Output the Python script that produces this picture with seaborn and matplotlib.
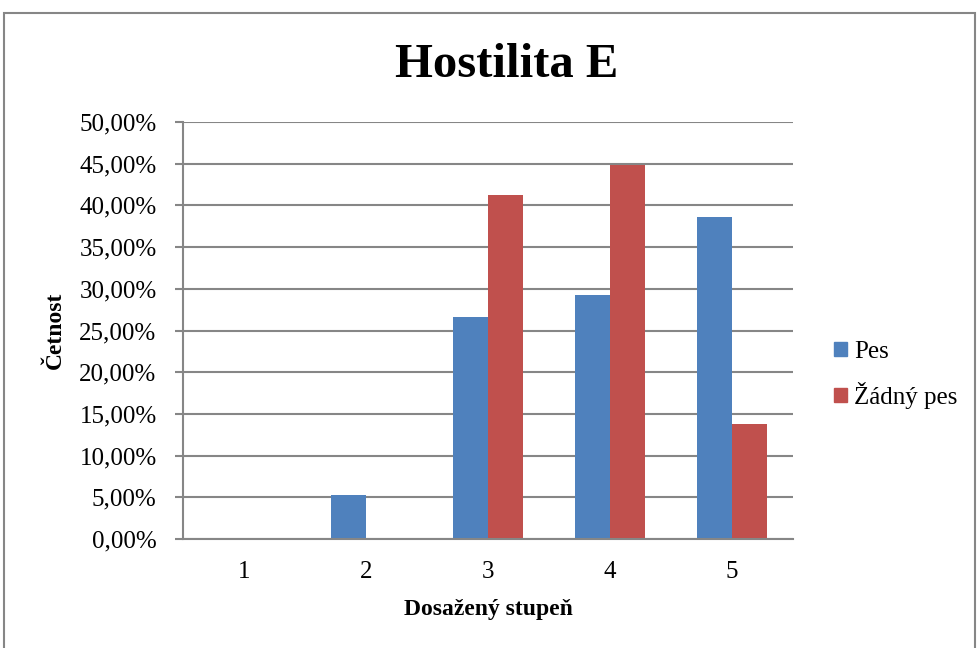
import matplotlib
matplotlib.use("Agg")
import matplotlib.pyplot as plt
import matplotlib.patches as mpatches
import seaborn as sns
import pandas as pd

categories = ["1", "2", "3", "4", "5"]
series_names = ["Pes", "Žádný pes"]
pes = [0.0, 5.3, 26.6, 29.3, 38.6]
zadny_pes = [0.0, 0.0, 41.3, 44.8, 13.8]
y_ticks = [0, 5, 10, 15, 20, 25, 30, 35, 40, 45, 50]
title = "Hostilita E"
x_label = "Dosažený stupeň"
y_label = "Četnost"
colors = ["#4F81BD", "#C0504D"]

df = pd.DataFrame({
    "cat": categories * 2,
    "val": pes + zadny_pes,
    "series": [series_names[0]] * len(categories) + [series_names[1]] * len(categories),
})

sns.set_theme(style="white")
plt.rcParams["font.family"] = ["Liberation Serif", "DejaVu Serif"]
plt.rcParams["text.color"] = "black"
plt.rcParams["axes.labelcolor"] = "black"
plt.rcParams["xtick.color"] = "black"
plt.rcParams["ytick.color"] = "black"

fig = plt.figure(figsize=(9.78, 6.48), dpi=100)
ax = fig.add_axes([183 / 978, 1 - 539 / 648, 610 / 978, 417 / 648])

sns.barplot(data=df, x="cat", y="val", hue="series", palette=colors,
            width=0.57, ax=ax, linewidth=0, saturation=1, legend=False)

grid_c = "#868686"
ax.set_ylim(0, 50)
ax.set_yticks(y_ticks)
ax.set_yticklabels([f"{v:.2f}".replace(".", ",") + "%" for v in y_ticks], fontsize=18)
ax.yaxis.grid(True, color=grid_c, linewidth=1.5)
ax.set_axisbelow(True)
for s in ["top", "right"]:
    ax.spines[s].set_visible(False)
for s in ["left", "bottom"]:
    ax.spines[s].set_color(grid_c)
    ax.spines[s].set_linewidth(1.5)
ax.tick_params(axis="y", left=True, length=6, width=1.5, color=grid_c, pad=13, labelcolor="black")
ax.tick_params(axis="x", bottom=False, length=0, pad=16, labelsize=18, labelcolor="black")

ax.set_xlabel(x_label, fontsize=17, fontweight="bold", color="black")
ax.xaxis.set_label_coords(0.5, (539 - 610) / 417)
ax.xaxis.label.set_verticalalignment("center")
ax.set_ylabel(y_label, fontsize=17, fontweight="bold", color="black")
ax.yaxis.set_label_coords((55 - 183) / 610, 0.5)
ax.yaxis.label.set_verticalalignment("center")

fig.text(507 / 978, 1 - 65 / 648, title, ha="center", va="center",
         fontsize=35, fontweight="bold", color="black")

handles = [mpatches.Patch(color=c, label=n) for c, n in zip(colors, series_names)]
fig.legend(handles=handles, loc="center left", bbox_to_anchor=(822 / 978, 1 - 375 / 648),
           frameon=False, fontsize=18, handlelength=0.5, handleheight=0.5,
           handletextpad=0.3, labelspacing=0.75, borderpad=0, labelcolor="black")

border = mpatches.Rectangle((4 / 978, -0.01), (975 - 4) / 978, (648 - 13) / 648 + 0.01,
                            transform=fig.transFigure, fill=False,
                            edgecolor="#868686", linewidth=1.5)
fig.patches.append(border)

fig.savefig("out.png", dpi=100)
